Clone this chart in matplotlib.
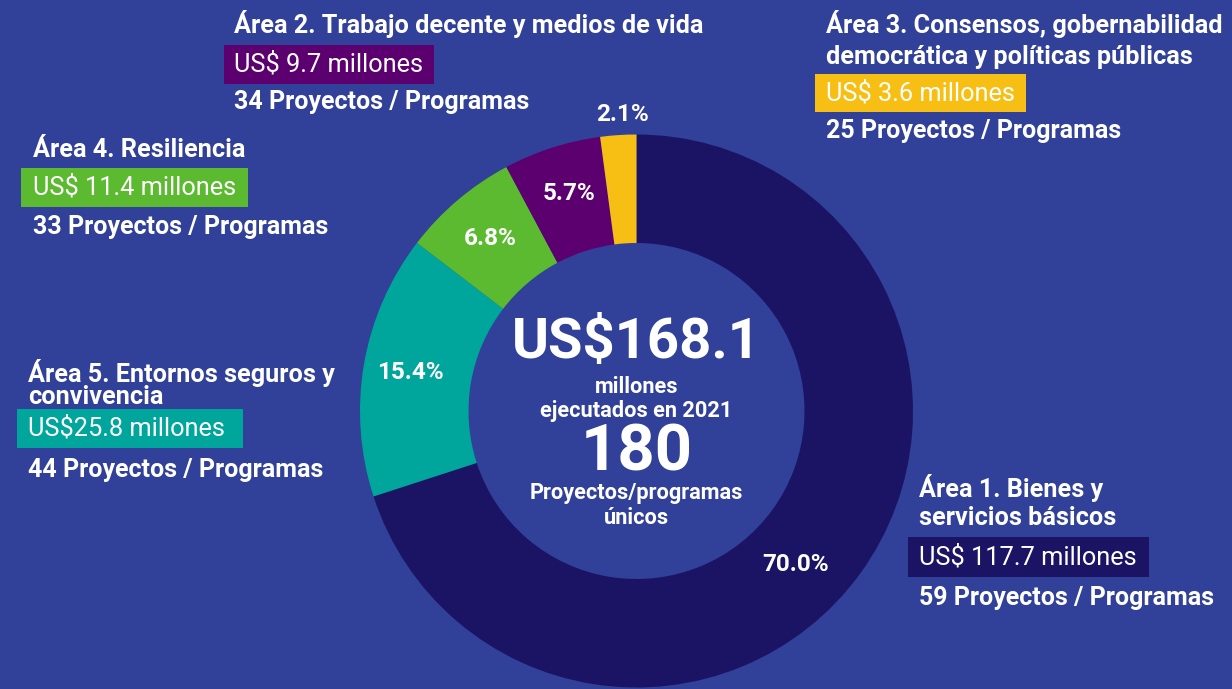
import matplotlib
matplotlib.use("Agg")
import matplotlib.pyplot as plt
from matplotlib.patches import Rectangle
import numpy as np

# ---- data ----
areas = ["Área 1. Bienes y\nservicios básicos",
         "Área 5. Entornos seguros y\nconvivencia",
         "Área 4. Resiliencia",
         "Área 2. Trabajo decente y medios de vida",
         "Área 3. Consensos, gobernabilidad\ndemocrática y políticas públicas"]
amounts = ["US$ 117.7 millones", "US$25.8 millones", "US$ 11.4 millones",
           "US$ 9.7 millones", "US$ 3.6 millones"]
projects = [59, 44, 33, 34, 25]
percents = [70.0, 15.4, 6.8, 5.7, 2.1]
colors = ["#1B1464", "#00A69C", "#5BBA2F", "#5C0070", "#F7BF13"]
total_text = "US$168.1"
total_projects = "180"

BG = "#314098"
W, H = 1232, 689

plt.rcParams['font.family'] = ['Roboto', 'DejaVu Sans']

fig = plt.figure(figsize=(W / 100, H / 100), dpi=100)
fig.patch.set_facecolor(BG)
ax = fig.add_axes([0, 0, 1, 1])
ax.set_facecolor(BG)

cx, cy = 636.5, H - 411
R, r = 276.5, 168

wedges, _ = ax.pie(percents, colors=colors, startangle=90, counterclock=False,
                   radius=R, center=(cx, cy), frame=True,
                   wedgeprops=dict(width=R - r, linewidth=0))
ax.set_xlim(0, W)
ax.set_ylim(0, H)
ax.set_aspect('equal')
ax.axis('off')

# percentage labels
label_rad = [0.80, 0.83, 0.82, 0.825, 1.072]
angle_adj = [-8, 0, 0, -0.5, -1]
for w, p, lr, da in zip(wedges, percents, label_rad, angle_adj):
    ang = np.deg2rad((w.theta1 + w.theta2) / 2 + da)
    ax.text(cx + lr * R * np.cos(ang), cy + lr * R * np.sin(ang), f"{p:.1f}%",
            color="white", fontsize=17.5, fontweight="bold", ha="center", va="center")

# center text
ax.text(cx, H - 343, total_text, color="white", fontsize=40.5, fontweight="bold",
        ha="center", va="center")
small = 15.7
ax.text(cx, H - 387, "millones", color="white", fontsize=small, fontweight="bold",
        ha="center", va="center")
ax.text(cx, H - 411, "ejecutados en 2021", color="white", fontsize=small, fontweight="bold",
        ha="center", va="center")
ax.text(cx, H - 453, total_projects, color="white", fontsize=47, fontweight="bold",
        ha="center", va="center")
ax.text(cx, H - 493, "Proyectos/programas", color="white", fontsize=small, fontweight="bold",
        ha="center", va="center")
ax.text(cx, H - 518, "únicos", color="white", fontsize=small, fontweight="bold",
        ha="center", va="center")

# area annotation blocks: (x, title_first_line_center, linespacing,
#                          box_left, box_top, box_bottom, box_right, projects_center_y)
blocks = [
    (919, 486, 1.2, 908, 537, 577, 1149, 598),
    (28, 371, 0.92, 17, 409, 448, 243, 470),
    (33, 150, 1.2, 21, 168, 207, 248, 227),
    (234, 22, 1.2, 224, 45, 84, 434, 102),
    (826, 22, 1.37, 815, 74, 112, 1026, 131),
]
for i, (x, ty, ls, bl, bt, bb, br, py) in enumerate(blocks):
    ax.text(x, H - ty + 12, areas[i], color="white", fontsize=18.2, fontweight="bold",
            ha="left", va="top", linespacing=ls)
    ax.add_patch(Rectangle((bl, H - bb), br - bl, bb - bt, facecolor=colors[i],
                           edgecolor="none", zorder=2))
    ax.text(x, H - (bt + bb) / 2, amounts[i], color="white", fontsize=18.3,
            fontweight="normal", ha="left", va="center", zorder=3)
    ax.text(x, H - py, f"{projects[i]} Proyectos / Programas", color="white",
            fontsize=18, fontweight="bold", ha="left", va="center")

fig.savefig("out.png", dpi=100, facecolor=BG)
